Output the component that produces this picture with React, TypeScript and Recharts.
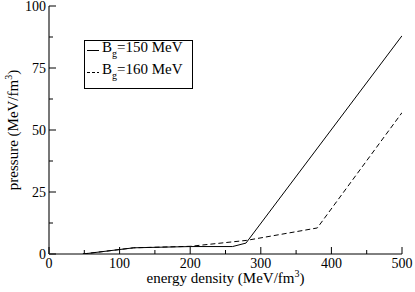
import React from "react";
import { LineChart, Line, XAxis, YAxis, Legend, Label } from "recharts";

const energy150 = [48, 120, 200, 260, 279, 500];
const pressure150 = [0, 2.5, 3.0, 3.0, 4.4, 88];
const energy160 = [48, 120, 200, 280, 380, 500];
const pressure160 = [0, 2.5, 3.1, 5.5, 10.5, 57];
const bagLabels = ["150 MeV", "160 MeV"];
const xTicks = [0, 50, 100, 150, 200, 250, 300, 350, 400, 450, 500];
const xMajor = [0, 100, 200, 300, 400, 500];
const yTicks = [0, 12.5, 25, 37.5, 50, 62.5, 75, 87.5, 100];
const yMajor = [0, 25, 50, 75, 100];

const series150 = energy150.map((e, i) => ({ e, p: pressure150[i] }));
const series160 = energy160.map((e, i) => ({ e, p: pressure160[i] }));

const FONT = "Liberation Serif, Tinos, Times New Roman, Times, serif";
const TICK_FS = 14;
const TITLE_FS = 15;
const txt = (size: number): React.CSSProperties => ({ fontFamily: FONT, fontSize: size });

const BottomTick = (props: any) => {
  const { x, y, payload } = props;
  const major = xMajor.includes(payload.value);
  return (
    <g>
      <line x1={x} x2={x} y1={y} y2={y - (major ? 7 : 4)} stroke="#000" />
      {major && (
        <text x={x} y={y + 14} textAnchor="middle" style={txt(TICK_FS)} fill="#000">
          {payload.value}
        </text>
      )}
    </g>
  );
};

const TopTick = (props: any) => {
  const { x, y, payload } = props;
  const major = xMajor.includes(payload.value);
  return <line x1={x} x2={x} y1={y} y2={y + (major ? 7 : 4)} stroke="#000" />;
};

const LeftTick = (props: any) => {
  const { x, y, payload } = props;
  const major = yMajor.includes(payload.value);
  return (
    <g>
      <line x1={x} x2={x + (major ? 7 : 4)} y1={y} y2={y} stroke="#000" />
      {major && (
        <text x={x - 3} y={y + 4.5} textAnchor="end" style={txt(TICK_FS)} fill="#000">
          {payload.value}
        </text>
      )}
    </g>
  );
};

const RightTick = (props: any) => {
  const { x, y, payload } = props;
  const major = yMajor.includes(payload.value);
  return <line x1={x} x2={x - (major ? 7 : 4)} y1={y} y2={y} stroke="#000" />;
};

const renderLegend = (props: any) => {
  const items = (props.payload || []) as any[];
  return (
    <svg width={110} height={50} style={{ display: "block" }}>
      <rect x={0.5} y={0.5} width={108} height={48} fill="#fff" stroke="#000" />
      {items.map((it, i) => (
        <g key={i}>
          <line
            x1={3}
            x2={15}
            y1={10.5 + 22 * i}
            y2={10.5 + 22 * i}
            stroke="#000"
            strokeDasharray={it.payload && it.payload.strokeDasharray ? "3 2" : undefined}
          />
          <text x={18} y={12 + 22 * i} style={txt(15)} fill="#000">
            B
            <tspan dy={5} style={txt(10)}>
              g
            </tspan>
            <tspan dy={-5}>={it.value}</tspan>
          </text>
        </g>
      ))}
    </svg>
  );
};

export default function App() {
  return (
    <div style={{ position: "absolute", left: 0, top: 0, fontFamily: FONT }}>
      <LineChart width={415} height={292} margin={{ top: 6, right: 13, bottom: 0, left: 0 }}>
        <XAxis
          type="number"
          dataKey="e"
          domain={[0, 500]}
          ticks={xTicks}
          interval={0}
          allowDataOverflow
          height={38}
          tickSize={0}
          tickMargin={0}
          tickLine={false}
          tick={BottomTick}
          axisLine={{ stroke: "#000" }}
        >
          <Label
            content={(p: any) => {
              const vb = p.viewBox;
              return (
                <text x={vb.x + vb.width / 2} y={vb.y + 29} textAnchor="middle" style={txt(TITLE_FS)} fill="#000">
                  energy density (MeV/fm
                  <tspan dy={-6} style={txt(10)}>
                    3
                  </tspan>
                  <tspan dy={6}>)</tspan>
                </text>
              );
            }}
          />
        </XAxis>
        <XAxis
          xAxisId="top"
          orientation="top"
          type="number"
          domain={[0, 500]}
          ticks={xTicks}
          interval={0}
          allowDataOverflow
          height={0}
          tickSize={0}
          tickMargin={0}
          tickLine={false}
          tick={TopTick}
          axisLine={{ stroke: "#000" }}
        />
        <YAxis
          type="number"
          domain={[0, 100]}
          ticks={yTicks}
          interval={0}
          allowDataOverflow
          width={49}
          tickSize={0}
          tickMargin={0}
          tickLine={false}
          tick={LeftTick}
          axisLine={{ stroke: "#777", strokeWidth: 2 }}
        >
          <Label
            content={(p: any) => {
              const vb = p.viewBox;
              const cx = 18;
              const cy = vb.y + vb.height / 2;
              return (
                <text
                  x={cx}
                  y={cy}
                  textAnchor="middle"
                  style={txt(TITLE_FS)}
                  fill="#000"
                  transform={`rotate(-90, ${cx}, ${cy})`}
                >
                  pressure (MeV/fm
                  <tspan dy={-6} style={txt(10)}>
                    3
                  </tspan>
                  <tspan dy={6}>)</tspan>
                </text>
              );
            }}
          />
        </YAxis>
        <YAxis
          yAxisId="right"
          orientation="right"
          type="number"
          domain={[0, 100]}
          ticks={yTicks}
          interval={0}
          allowDataOverflow
          width={0}
          tickSize={0}
          tickMargin={0}
          tickLine={false}
          tick={RightTick}
          axisLine={{ stroke: "#000" }}
        />
        <Legend
          layout="horizontal"
          verticalAlign="middle"
          align="center"
          content={renderLegend}
          wrapperStyle={{ left: 84, top: 40, width: 110, height: 50 }}
        />
        <Line
          data={series150}
          dataKey="p"
          name={bagLabels[0]}
          type="linear"
          stroke="#000"
          strokeWidth={1}
          dot={false}
          isAnimationActive={false}
        />
        <Line
          data={series160}
          dataKey="p"
          name={bagLabels[1]}
          type="linear"
          stroke="#000"
          strokeWidth={1}
          strokeDasharray="5 3"
          dot={false}
          isAnimationActive={false}
        />
      </LineChart>
    </div>
  );
}
